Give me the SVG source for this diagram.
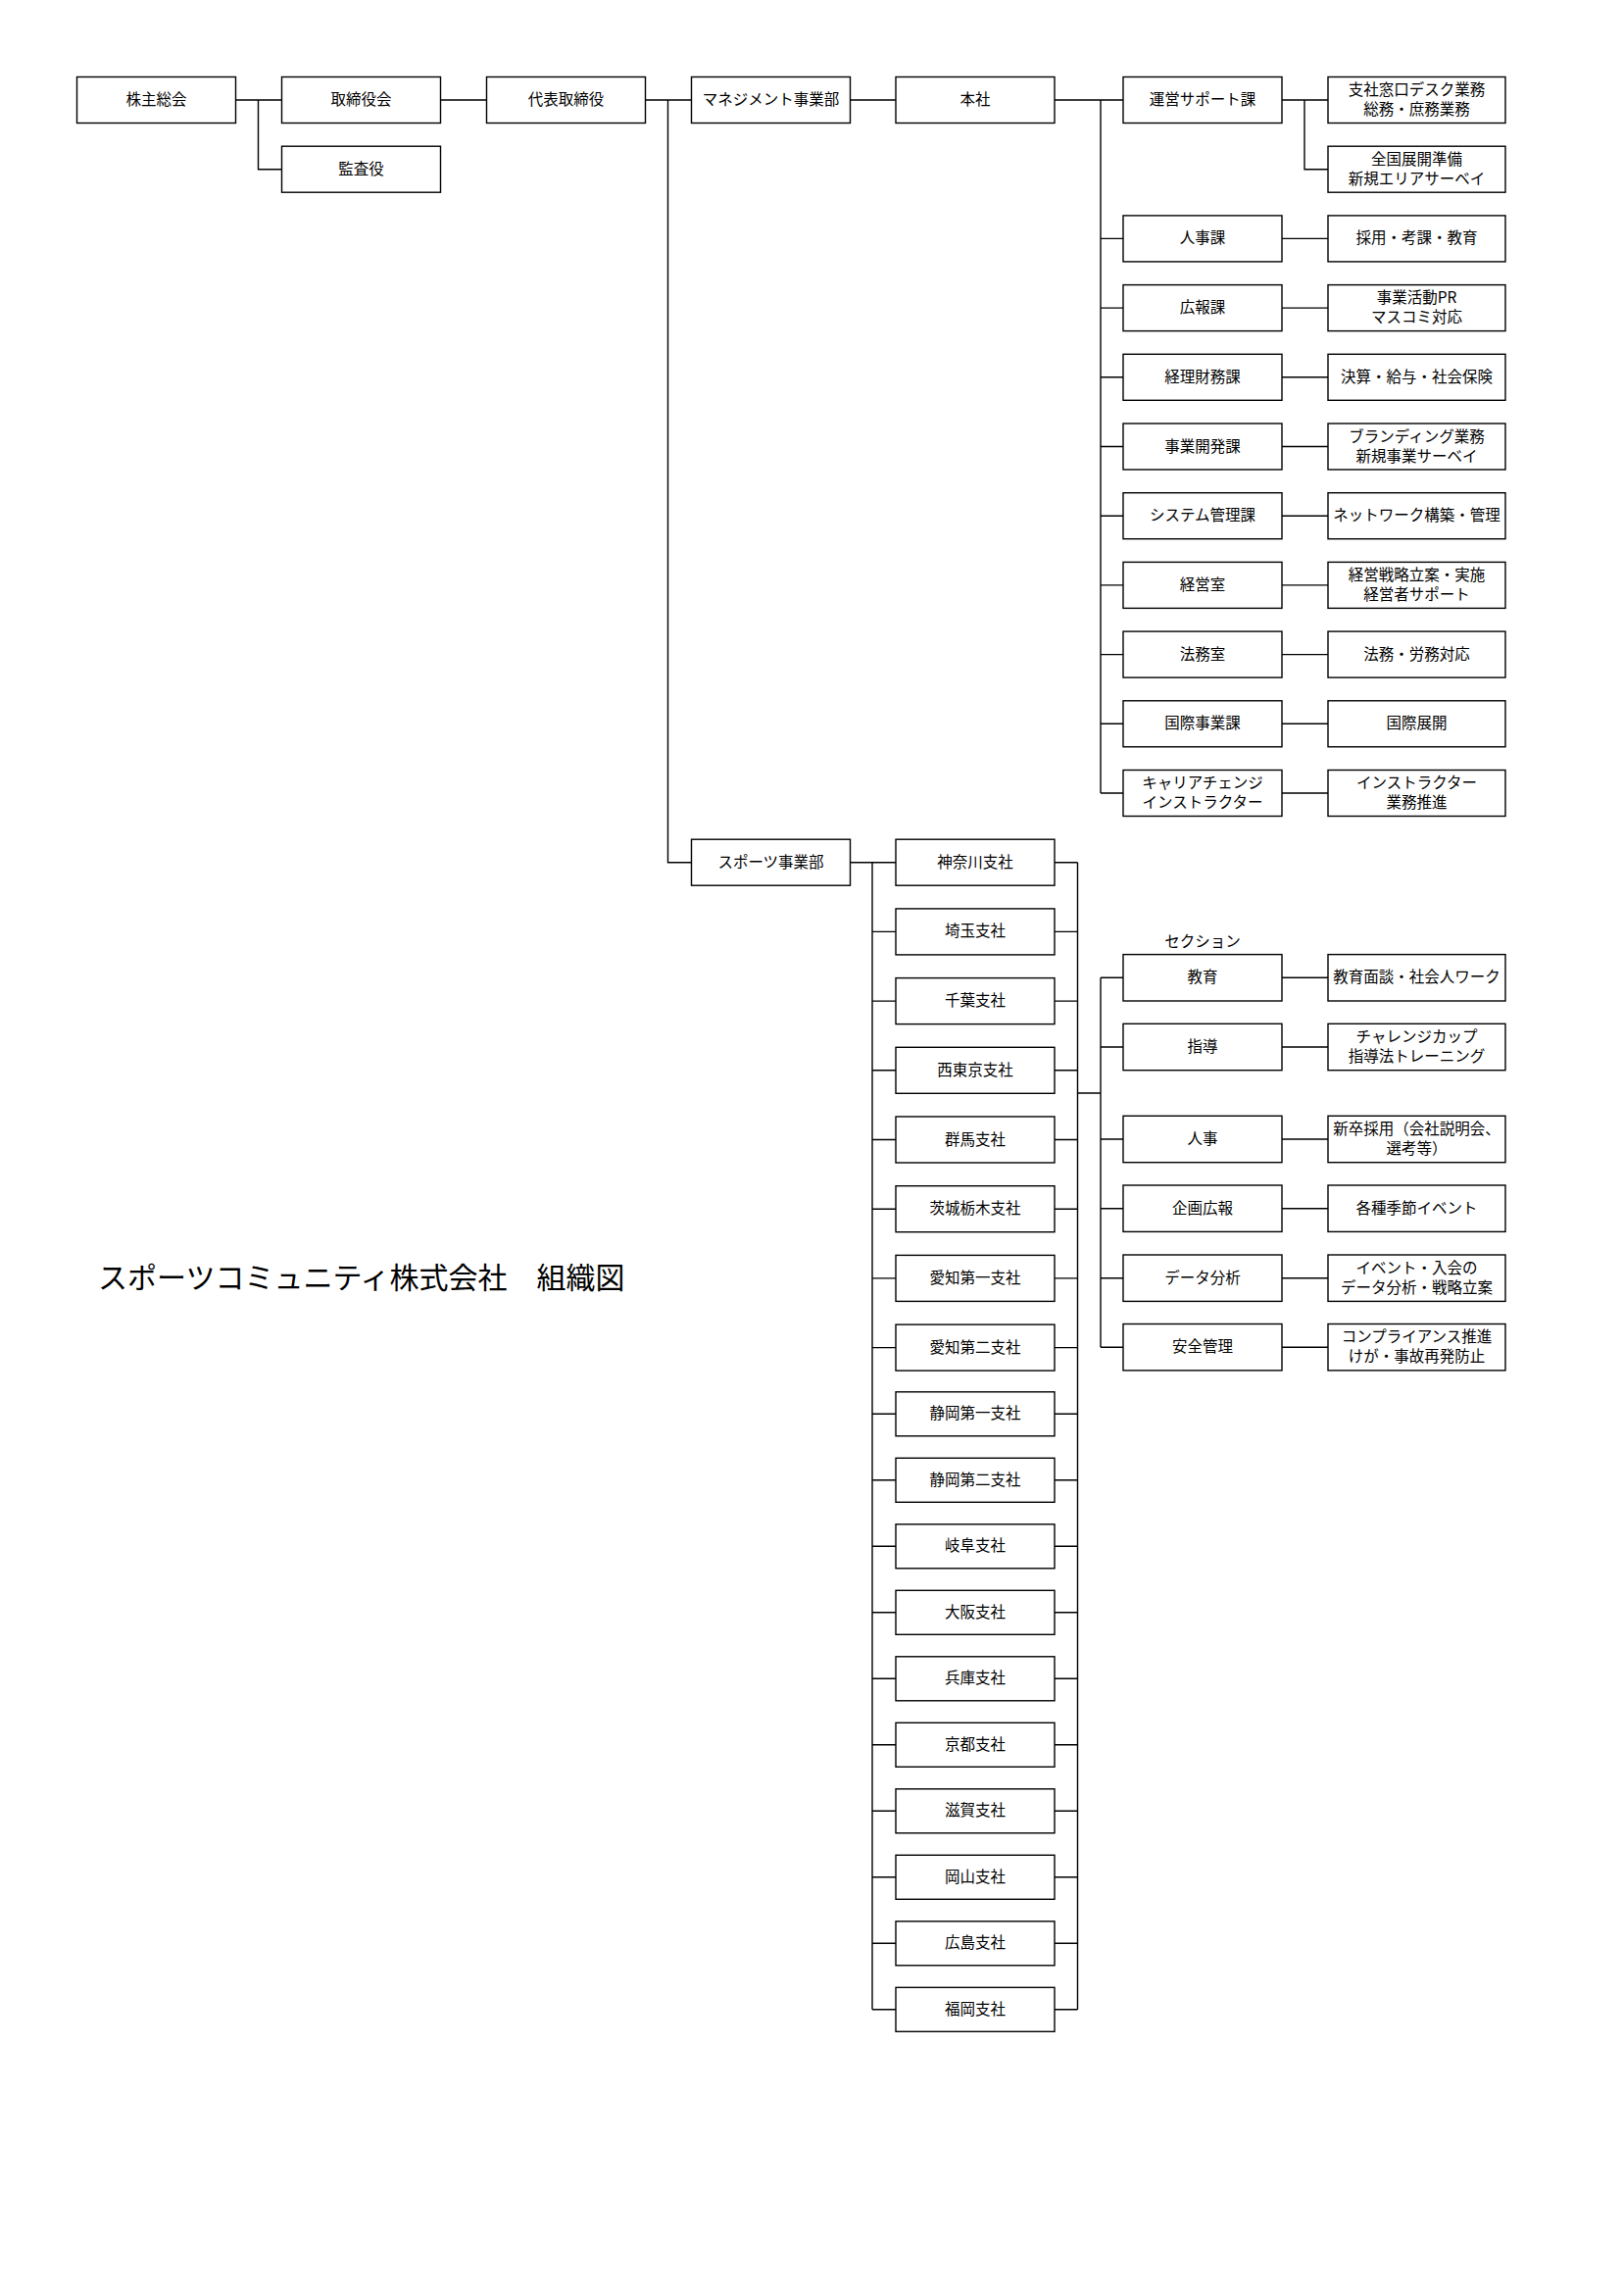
<svg xmlns="http://www.w3.org/2000/svg" width="1656" height="2342" viewBox="0 0 1656 2342">
<style>
rect{fill:#fff;stroke:#000;stroke-width:1.4}
.c{fill:none;stroke:#000;stroke-width:1.4}
text{font-family:"Noto Sans CJK JP","Noto Sans CJK SC",sans-serif;font-size:15.5px;fill:#000;text-anchor:middle;dominant-baseline:central;transform:translateY(-2px)}
.title{font-size:30px;text-anchor:start;transform:translateY(-3px)}
</style>
<rect x="0" y="0" width="1656" height="2342" style="fill:#fff;stroke:none"/>
<g id="connectors">
<path class="c" d="M240.5 102H287.5M263.5 102V172.7H287.5M449.5 102H496.5M658.5 102H705.5M681.5 102V879.7H705.5M867.5 102H914M1076 102H1146M1123 102V809
M1123 243.4H1146M1123 314.1H1146M1123 384.8H1146M1123 455.5H1146M1123 526.2H1146M1123 596.9H1146M1123 667.6H1146M1123 738.3H1146M1123 809H1146
M1308 102H1355M1331 102V172.7H1355M1308 243.4H1355M1308 314.1H1355M1308 384.8H1355M1308 455.5H1355M1308 526.2H1355M1308 596.9H1355M1308 667.6H1355M1308 738.3H1355M1308 809H1355
M867.5 879.7H914M890 879.7V2049.8M1099.5 879.7V2049.8
M890 950.4H914M890 1021.1H914M890 1091.8H914M890 1162.5H914M890 1233.2H914M890 1303.9H914M890 1374.6H914M890 1442.3H914M890 1509.8H914M890 1577.3H914M890 1644.8H914M890 1712.3H914M890 1779.8H914M890 1847.3H914M890 1914.8H914M890 1982.3H914M890 2049.8H914
M1076 879.7H1099.5M1076 950.4H1099.5M1076 1021.1H1099.5M1076 1091.8H1099.5M1076 1162.5H1099.5M1076 1233.2H1099.5M1076 1303.9H1099.5M1076 1374.6H1099.5M1076 1442.3H1099.5M1076 1509.8H1099.5M1076 1577.3H1099.5M1076 1644.8H1099.5M1076 1712.3H1099.5M1076 1779.8H1099.5M1076 1847.3H1099.5M1076 1914.8H1099.5M1076 1982.3H1099.5M1076 2049.8H1099.5
M1099.5 1115H1123M1123 997.3V1374.2
M1123 997.3H1146M1123 1068H1146M1123 1162H1146M1123 1232.7H1146M1123 1303.7H1146M1123 1374.2H1146
M1308 997.3H1355M1308 1068H1355M1308 1162H1355M1308 1232.7H1355M1308 1303.7H1355M1308 1374.2H1355"/>
</g>
<g id="n-kabunushi"><rect x="78.5" y="78.5" width="162" height="47"/><text x="159.5" y="102">株主総会</text></g>
<g id="n-torishimariyakukai"><rect x="287.5" y="78.5" width="162" height="47"/><text x="368.5" y="102">取締役会</text></g>
<g id="n-kansayaku"><rect x="287.5" y="149.2" width="162" height="47"/><text x="368.5" y="172.7">監査役</text></g>
<g id="n-daihyo"><rect x="496.5" y="78.5" width="162" height="47"/><text x="577.5" y="102">代表取締役</text></g>
<g id="n-management"><rect x="705.5" y="78.5" width="162" height="47"/><text x="786.5" y="102">マネジメント事業部</text></g>
<g id="n-honsha"><rect x="914" y="78.5" width="162" height="47"/><text x="995" y="102">本社</text></g>
<g id="n-unei"><rect x="1146" y="78.5" width="162" height="47"/><text x="1227" y="102">運営サポート課</text></g>
<g id="n-unei-d1"><rect x="1355" y="78.5" width="181" height="47"/><text x="1445.5" y="92">支社窓口デスク業務</text><text x="1445.5" y="112">総務・庶務業務</text></g>
<g id="n-unei-d2"><rect x="1355" y="149.2" width="181" height="47"/><text x="1445.5" y="162.7">全国展開準備</text><text x="1445.5" y="182.7">新規エリアサーベイ</text></g>
<g id="n-jinji"><rect x="1146" y="219.9" width="162" height="47"/><text x="1227" y="243.4">人事課</text></g>
<g id="n-jinji-d"><rect x="1355" y="219.9" width="181" height="47"/><text x="1445.5" y="243.4">採用・考課・教育</text></g>
<g id="n-koho"><rect x="1146" y="290.6" width="162" height="47"/><text x="1227" y="314.1">広報課</text></g>
<g id="n-koho-d"><rect x="1355" y="290.6" width="181" height="47"/><text x="1445.5" y="304.1">事業活動PR</text><text x="1445.5" y="324.1">マスコミ対応</text></g>
<g id="n-keiri"><rect x="1146" y="361.3" width="162" height="47"/><text x="1227" y="384.8">経理財務課</text></g>
<g id="n-keiri-d"><rect x="1355" y="361.3" width="181" height="47"/><text x="1445.5" y="384.8">決算・給与・社会保険</text></g>
<g id="n-jigyokaihatsu"><rect x="1146" y="432" width="162" height="47"/><text x="1227" y="455.5">事業開発課</text></g>
<g id="n-jigyokaihatsu-d"><rect x="1355" y="432" width="181" height="47"/><text x="1445.5" y="445.5">ブランディング業務</text><text x="1445.5" y="465.5">新規事業サーベイ</text></g>
<g id="n-system"><rect x="1146" y="502.7" width="162" height="47"/><text x="1227" y="526.2">システム管理課</text></g>
<g id="n-system-d"><rect x="1355" y="502.7" width="181" height="47"/><text x="1445.5" y="526.2">ネットワーク構築・管理</text></g>
<g id="n-keieishitsu"><rect x="1146" y="573.4" width="162" height="47"/><text x="1227" y="596.9">経営室</text></g>
<g id="n-keieishitsu-d"><rect x="1355" y="573.4" width="181" height="47"/><text x="1445.5" y="586.9">経営戦略立案・実施</text><text x="1445.5" y="606.9">経営者サポート</text></g>
<g id="n-homushitsu"><rect x="1146" y="644.1" width="162" height="47"/><text x="1227" y="667.6">法務室</text></g>
<g id="n-homushitsu-d"><rect x="1355" y="644.1" width="181" height="47"/><text x="1445.5" y="667.6">法務・労務対応</text></g>
<g id="n-kokusai"><rect x="1146" y="714.8" width="162" height="47"/><text x="1227" y="738.3">国際事業課</text></g>
<g id="n-kokusai-d"><rect x="1355" y="714.8" width="181" height="47"/><text x="1445.5" y="738.3">国際展開</text></g>
<g id="n-career"><rect x="1146" y="785.5" width="162" height="47"/><text x="1227" y="799">キャリアチェンジ</text><text x="1227" y="819">インストラクター</text></g>
<g id="n-career-d"><rect x="1355" y="785.5" width="181" height="47"/><text x="1445.5" y="799">インストラクター</text><text x="1445.5" y="819">業務推進</text></g>
<g id="n-sports"><rect x="705.5" y="856.2" width="162" height="47"/><text x="786.5" y="879.7">スポーツ事業部</text></g>
<g id="b-kanagawa"><rect x="914" y="856.2" width="162" height="47"/><text x="995" y="879.7">神奈川支社</text></g>
<g id="b-saitama"><rect x="914" y="926.9" width="162" height="47"/><text x="995" y="950.4">埼玉支社</text></g>
<g id="b-chiba"><rect x="914" y="997.6" width="162" height="47"/><text x="995" y="1021.1">千葉支社</text></g>
<g id="b-nishitokyo"><rect x="914" y="1068.3" width="162" height="47"/><text x="995" y="1091.8">西東京支社</text></g>
<g id="b-gunma"><rect x="914" y="1139" width="162" height="47"/><text x="995" y="1162.5">群馬支社</text></g>
<g id="b-ibaraki"><rect x="914" y="1209.7" width="162" height="47"/><text x="995" y="1233.2">茨城栃木支社</text></g>
<g id="b-aichi1"><rect x="914" y="1280.4" width="162" height="47"/><text x="995" y="1303.9">愛知第一支社</text></g>
<g id="b-aichi2"><rect x="914" y="1351.1" width="162" height="47"/><text x="995" y="1374.6">愛知第二支社</text></g>
<g id="b-shizuoka1"><rect x="914" y="1419.8" width="162" height="45"/><text x="995" y="1442.3">静岡第一支社</text></g>
<g id="b-shizuoka2"><rect x="914" y="1487.3" width="162" height="45"/><text x="995" y="1509.8">静岡第二支社</text></g>
<g id="b-gifu"><rect x="914" y="1554.8" width="162" height="45"/><text x="995" y="1577.3">岐阜支社</text></g>
<g id="b-osaka"><rect x="914" y="1622.3" width="162" height="45"/><text x="995" y="1644.8">大阪支社</text></g>
<g id="b-hyogo"><rect x="914" y="1689.8" width="162" height="45"/><text x="995" y="1712.3">兵庫支社</text></g>
<g id="b-kyoto"><rect x="914" y="1757.3" width="162" height="45"/><text x="995" y="1779.8">京都支社</text></g>
<g id="b-shiga"><rect x="914" y="1824.8" width="162" height="45"/><text x="995" y="1847.3">滋賀支社</text></g>
<g id="b-okayama"><rect x="914" y="1892.3" width="162" height="45"/><text x="995" y="1914.8">岡山支社</text></g>
<g id="b-hiroshima"><rect x="914" y="1959.8" width="162" height="45"/><text x="995" y="1982.3">広島支社</text></g>
<g id="b-fukuoka"><rect x="914" y="2027.3" width="162" height="45"/><text x="995" y="2049.8">福岡支社</text></g>
<g id="section-label"><text x="1227" y="961">セクション</text></g>
<g id="s-kyoiku"><rect x="1146" y="973.6" width="162" height="47.4"/><text x="1227" y="997.3">教育</text></g>
<g id="s-kyoiku-d"><rect x="1355" y="973.6" width="181" height="47.4"/><text x="1445.5" y="997.3">教育面談・社会人ワーク</text></g>
<g id="s-shido"><rect x="1146" y="1044.3" width="162" height="47.4"/><text x="1227" y="1068">指導</text></g>
<g id="s-shido-d"><rect x="1355" y="1044.3" width="181" height="47.4"/><text x="1445.5" y="1058">チャレンジカップ</text><text x="1445.5" y="1078">指導法トレーニング</text></g>
<g id="s-jinji"><rect x="1146" y="1138.3" width="162" height="47.4"/><text x="1227" y="1162">人事</text></g>
<g id="s-jinji-d"><rect x="1355" y="1138.3" width="181" height="47.4"/><text x="1445.5" y="1152">新卒採用（会社説明会、</text><text x="1445.5" y="1172">選考等）</text></g>
<g id="s-kikaku"><rect x="1146" y="1209" width="162" height="47.4"/><text x="1227" y="1232.7">企画広報</text></g>
<g id="s-kikaku-d"><rect x="1355" y="1209" width="181" height="47.4"/><text x="1445.5" y="1232.7">各種季節イベント</text></g>
<g id="s-data"><rect x="1146" y="1280" width="162" height="47.4"/><text x="1227" y="1303.7">データ分析</text></g>
<g id="s-data-d"><rect x="1355" y="1280" width="181" height="47.4"/><text x="1445.5" y="1293.7">イベント・入会の</text><text x="1445.5" y="1313.7">データ分析・戦略立案</text></g>
<g id="s-anzen"><rect x="1146" y="1350.5" width="162" height="47.4"/><text x="1227" y="1374.2">安全管理</text></g>
<g id="s-anzen-d"><rect x="1355" y="1350.5" width="181" height="47.4"/><text x="1445.5" y="1364.2">コンプライアンス推進</text><text x="1445.5" y="1384.2">けが・事故再発防止</text></g>
<g id="title"><text class="title" x="100" y="1303.5">スポーツコミュニティ株式会社　組織図</text></g>
</svg>
